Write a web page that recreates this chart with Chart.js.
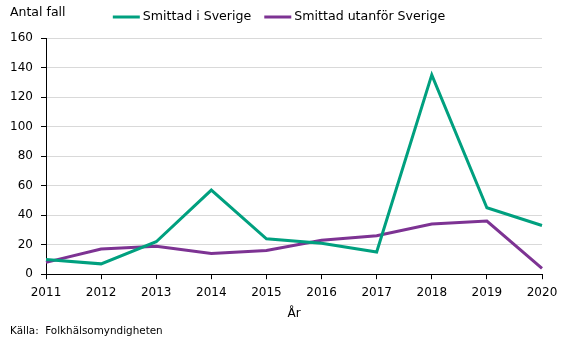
<!DOCTYPE html>
<html><head><meta charset="utf-8">
<script src="https://cdn.jsdelivr.net/npm/chart.js@4/dist/chart.umd.min.js"></script>
<style>html,body{margin:0;padding:0;background:#fff}#w{width:567px;height:339px;position:relative}</style>
</head><body><div id="w"><canvas id="c" width="567" height="339"></canvas></div>
<script>
const years = ['2011','2012','2013','2014','2015','2016','2017','2018','2019','2020'];
const smittadSverige = [10, 7, 22, 57, 24, 21, 15, 135, 45, 33];
const smittadUtanfor = [8, 17, 19, 14, 16, 23, 26, 34, 36, 4];
const yTicks = [0,20,40,60,80,100,120,140,160];
const FONT = "'DejaVu Sans', sans-serif";
const GREEN = '#00A07F', PURPLE = '#7D3393';

const textPlugin = {
  id: 'texts',
  afterDraw(chart) {
    const ctx = chart.ctx;
    ctx.save();
    ctx.fillStyle = '#000';
    ctx.textBaseline = 'middle';
    ctx.textAlign = 'left';
    ctx.font = '12.5px ' + FONT;
    ctx.fillText('Antal fall', 10, 13);
    ctx.font = '10.4px ' + FONT;
    ctx.fillText('Källa:  Folkhälsomyndigheten', 10, 331);
    // legend
    ctx.font = '12.6px ' + FONT;
    const ds = chart.data.datasets;
    const lineW = 27, gapT = 3, gapItem = 13;
    let total = 0;
    ds.forEach((d, i) => { total += lineW + gapT + ctx.measureText(d.label).width + (i ? gapItem : 0); });
    let x = 279 - total / 2;
    const y = 17;
    ds.forEach((d, i) => {
      if (i) x += gapItem;
      ctx.strokeStyle = d.borderColor;
      ctx.lineWidth = 3;
      ctx.beginPath(); ctx.moveTo(x, y); ctx.lineTo(x + lineW, y); ctx.stroke();
      x += lineW + gapT;
      ctx.fillText(d.label, x, y);
      x += ctx.measureText(d.label).width;
    });
    ctx.restore();
  }
};

new Chart(document.getElementById('c'), {
  type: 'line',
  data: {
    labels: years,
    datasets: [
      {label: 'Smittad i Sverige', data: smittadSverige, borderColor: GREEN, backgroundColor: GREEN, borderWidth: 3, pointRadius: 0, tension: 0},
      {label: 'Smittad utanför Sverige', data: smittadUtanfor, borderColor: PURPLE, backgroundColor: PURPLE, borderWidth: 3, pointRadius: 0, tension: 0}
    ]
  },
  options: {
    responsive: false,
    animation: false,
    events: [],
    layout: {padding: {left: 0, right: 25, top: 38, bottom: 18}},
    plugins: {
      tooltip: {enabled: false},
      legend: {display: false}
    },
    scales: {
      x: {
        type: 'category',
        offset: false,
        grid: {display: true, drawOnChartArea: false, drawTicks: true, tickLength: 5, color: '#000', lineWidth: 1},
        border: {display: true, color: '#000', width: 1},
        ticks: {font: {family: FONT, size: 12}, color: '#000', padding: 6, maxRotation: 0, autoSkip: false},
        title: {display: true, text: 'År', font: {family: FONT, size: 12}, color: '#000', padding: {top: 1, bottom: 0}}
      },
      y: {
        min: 0, max: 160,
        afterBuildTicks(scale) { scale.ticks = yTicks.map(v => ({value: v})); },
        grid: {display: true, color: '#d9d9d9', lineWidth: 1, drawTicks: true, tickLength: 5,
               tickColor: '#000'},
        border: {display: true, color: '#000', width: 1},
        ticks: {font: {family: FONT, size: 12}, color: '#000', padding: 8},
        afterFit(scale) { scale.width = 46; }
      }
    }
  },
  plugins: [textPlugin]
});
</script></body></html>
